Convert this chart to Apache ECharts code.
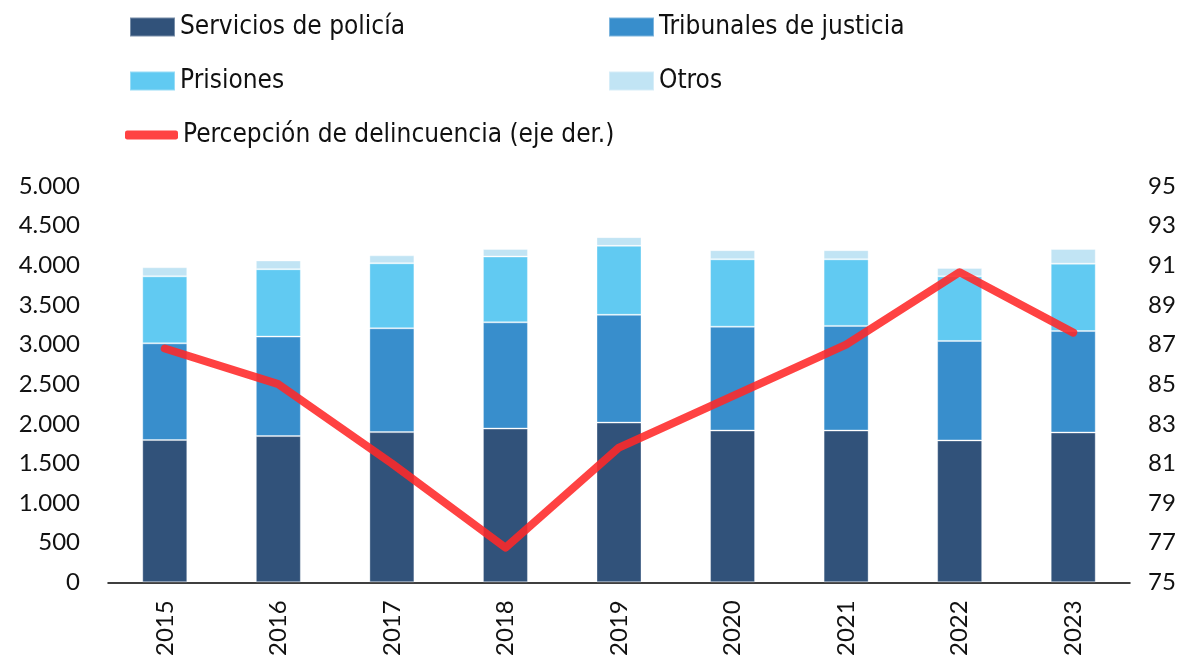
<!DOCTYPE html>
<html>
<head>
<meta charset="utf-8">
<script src="https://cdn.jsdelivr.net/npm/echarts@6/dist/echarts.min.js"></script>
<style>
html,body{margin:0;padding:0;background:#fff;}
#c{width:1187px;height:659px;}
</style>
</head>
<body>
<div id="c"></div>
<script>
const years = ['2015','2016','2017','2018','2019','2020','2021','2022','2023'];
const policia = [1795,1845,1895,1940,2015,1915,1915,1790,1890];
const tribunales = [1220,1255,1310,1340,1360,1310,1320,1255,1280];
const prisiones = [845,850,820,830,870,850,840,815,850];
const otros = [115,110,100,95,110,115,115,105,185];
const percepcion = [86.8,85.0,81.0,76.75,81.8,84.4,87.0,90.65,87.6];

const leftTicks = {min:0, max:5000, interval:500};
const rightTicks = {min:75, max:95, interval:2};

const names = ['Servicios de policía','Tribunales de justicia','Prisiones','Otros','Percepción de delincuencia (eje der.)'];
const colors = ['#31527A','#388ECC','#61CAF2','#C1E4F4','rgba(255,40,40,0.88)'];

const legendFont = {fontFamily:'"Liberation Sans Narrow","DejaVu Sans Condensed",Roboto,sans-serif', fontSize:26, color:'#111', lineHeight:30};
function lg(name, left, top, w, h, icon){
  return {data:[{name:name, icon:icon||'rect'}], left:left, top:top, padding:0, itemWidth:w, itemHeight:h, itemGap:0, textStyle:legendFont, selectedMode:false};
}
const axisFont = {fontFamily:'Lato, "Open Sans", sans-serif', fontSize:24, color:'#111'};

function fmt(v){ return String(v).replace(/\B(?=(\d{3})+(?!\d))/g,'.'); }

const barStyle = (i)=>({color:colors[i], borderColor:'rgba(255,255,255,0.35)', borderWidth:1});

const chart = echarts.init(document.getElementById('c'), null, {renderer:'canvas'});
chart.setOption({
  animation:false,
  legend:[
    lg(names[0],129,12,45,19),
    lg(names[1],608,12,45,19),
    lg(names[2],129,66,45,19),
    lg(names[3],608,66,45,19),
    lg(names[4],125,120,53,9,'roundRect')
  ],
  grid:{left:108, right:57, top:186, bottom:74, containLabel:false},
  xAxis:{type:'category', data:years,
    axisLine:{show:true, lineStyle:{color:'#000', width:1.5}},
    axisTick:{show:false},
    axisLabel:Object.assign({rotate:90, margin:18}, axisFont)},
  yAxis:[
    {type:'value', min:leftTicks.min, max:leftTicks.max, interval:leftTicks.interval,
     axisLine:{show:false}, axisTick:{show:false}, splitLine:{show:false},
     axisLabel:Object.assign({margin:28, formatter:fmt}, axisFont)},
    {type:'value', min:rightTicks.min, max:rightTicks.max, interval:rightTicks.interval, position:'right',
     axisLine:{show:false}, axisTick:{show:false}, splitLine:{show:false},
     axisLabel:Object.assign({margin:18}, axisFont)}
  ],
  series:[
    {name:names[0], type:'bar', stack:'t', data:policia, barWidth:45, itemStyle:barStyle(0)},
    {name:names[1], type:'bar', stack:'t', data:tribunales, barWidth:45, itemStyle:barStyle(1)},
    {name:names[2], type:'bar', stack:'t', data:prisiones, barWidth:45, itemStyle:barStyle(2)},
    {name:names[3], type:'bar', stack:'t', data:otros, barWidth:45, itemStyle:barStyle(3)},
    {name:names[4], type:'line', yAxisIndex:1, data:percepcion, symbol:'none', z:5,
     itemStyle:{color:colors[4]},
     lineStyle:{color:colors[4], width:8, cap:'round', join:'round'}}
  ]
});
</script>
</body>
</html>
